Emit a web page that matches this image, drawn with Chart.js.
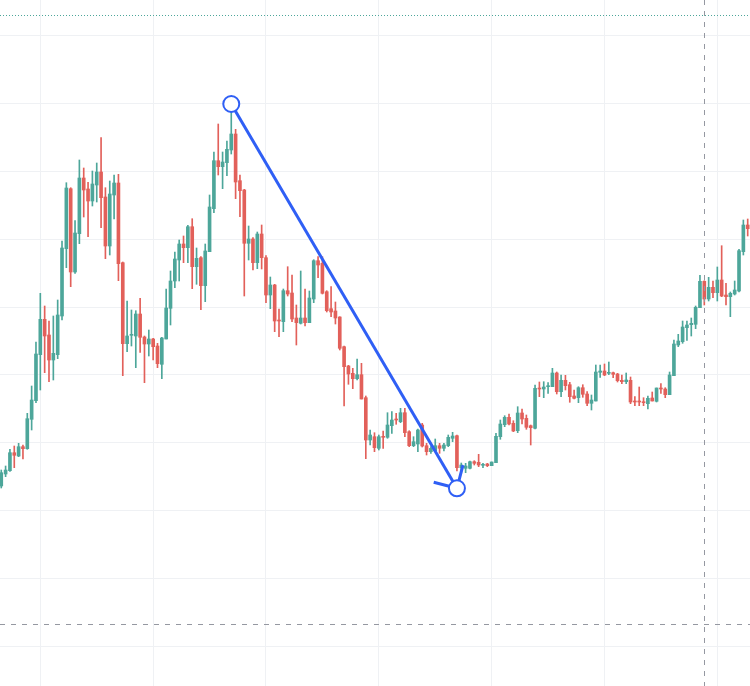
<!DOCTYPE html>
<html>
<head>
<meta charset="utf-8">
<script src="https://cdn.jsdelivr.net/npm/chart.js@4.4.1/dist/chart.umd.min.js"></script>
<style>
  html, body { margin: 0; padding: 0; background: #ffffff; }
  #wrap { width: 750px; height: 686px; position: relative; }
</style>
</head>
<body>
<div id="wrap"><canvas id="chart"></canvas></div>
<script>
// OHLC, one candle per bar index (0..172)
const opens = [
  20.0, 21.2, 21.53, 23.33, 23.0, 23.93, 23.73, 26.67, 28.53, 33.13,
  36.67, 35.1, 32.6, 33.13, 37.0, 43.73, 49.73, 41.4, 45.23, 50.8,
  49.7, 48.5, 50.1, 51.4, 48.9, 44.0, 49.1, 50.3, 42.33, 34.23,
  35.07, 35.0, 37.2, 34.9, 34.2, 34.7, 34.0, 32.17, 34.7, 37.77,
  40.5, 42.6, 44.2, 43.83, 45.93, 41.93, 42.83, 40.03, 43.43, 47.73,
  52.53, 51.93, 52.33, 53.6, 55.2, 50.53, 49.6, 44.27, 44.7, 42.33,
  45.2, 42.83, 39.1, 40.1, 36.6, 36.43, 39.53, 39.3, 36.8, 36.27,
  36.8, 36.33, 38.7, 42.53, 42.27, 39.43, 37.73, 37.5, 36.9, 33.93,
  32.0, 31.27, 30.73, 31.13, 28.83, 24.6, 24.93, 23.77, 24.93, 24.87,
  26.03, 26.7, 26.43, 27.33, 25.43, 24.03, 24.2, 26.1, 24.03, 23.43,
  23.53, 24.03, 23.77, 24.03, 24.77, 25.03, 21.83, 21.77, 21.77, 22.43,
  22.37, 22.07, 22.2, 22.03, 22.33, 24.93, 26.13, 26.87, 26.27, 25.53,
  27.3, 26.77, 26.03, 25.77, 29.77, 29.7, 29.93, 29.93, 31.3, 29.43,
  30.57, 30.13, 29.0, 28.83, 29.83, 29.2, 28.27, 28.5, 31.37, 31.5,
  31.27, 31.33, 31.2, 30.57, 30.43, 30.57, 28.5, 28.5, 28.43, 28.23,
  28.8, 28.47, 29.8, 29.7, 29.13, 31.03, 34.1, 34.43, 35.83, 36.13,
  36.17, 37.83, 40.47, 38.7, 39.87, 39.33, 40.6, 39.1, 38.93, 39.2,
  39.5, 43.43, 46.1
]
const highs = [
  21.6, 22.0, 23.67, 24.0, 24.27, 24.1, 27.27, 30.0, 34.4, 39.27,
  38.0, 36.5, 37.0, 38.6, 44.5, 50.33, 49.83, 46.53, 52.6, 51.8,
  50.37, 51.5, 52.3, 54.83, 49.83, 50.5, 51.1, 51.17, 42.4, 38.5,
  37.6, 37.53, 38.77, 35.0, 35.6, 34.77, 34.27, 34.87, 39.7, 41.5,
  43.4, 44.6, 45.0, 46.07, 46.73, 43.8, 42.93, 44.2, 49.1, 53.4,
  56.2, 53.4, 54.5, 58.2, 55.67, 51.1, 49.67, 46.0, 44.83, 45.4,
  46.1, 43.03, 40.9, 40.17, 37.7, 39.7, 41.93, 41.1, 38.1, 41.5,
  39.7, 39.5, 42.63, 42.93, 42.93, 39.53, 39.93, 38.4, 36.93, 34.0,
  32.07, 31.77, 32.7, 32.27, 29.0, 25.6, 25.33, 25.1, 25.5, 27.33,
  27.43, 27.27, 27.77, 27.77, 25.53, 24.93, 25.7, 26.27, 24.27, 23.93,
  24.7, 24.27, 24.27, 25.1, 25.37, 25.1, 22.3, 22.27, 22.5, 22.53,
  23.17, 22.27, 22.27, 22.4, 25.27, 26.6, 27.03, 27.2, 26.53, 27.93,
  27.7, 27.1, 26.1, 30.1, 30.4, 30.43, 30.33, 31.77, 31.4, 31.1,
  31.07, 30.37, 29.6, 29.93, 30.13, 29.43, 29.1, 32.1, 32.1, 32.2,
  32.4, 31.4, 31.27, 31.1, 31.3, 30.9, 28.93, 29.9, 28.83, 29.0,
  29.4, 29.8, 30.23, 29.83, 31.4, 34.6, 35.17, 36.5, 36.5, 36.8,
  38.0, 41.07, 40.53, 40.87, 40.5, 41.9, 44.03, 40.27, 39.4, 40.5,
  43.67, 46.6, 46.7
]
const lows = [
  19.8, 20.93, 21.47, 21.83, 22.93, 22.7, 23.67, 25.6, 28.33, 29.6,
  31.33, 30.43, 30.6, 32.73, 36.6, 41.83, 39.93, 41.27, 44.23, 46.9,
  44.93, 48.0, 48.4, 45.83, 42.73, 43.1, 46.7, 40.53, 31.03, 33.43,
  34.0, 31.83, 33.37, 30.33, 33.0, 32.6, 31.83, 30.73, 34.7, 36.1,
  39.83, 40.5, 42.33, 42.33, 39.73, 40.17, 37.63, 38.43, 43.43, 47.33,
  51.1, 49.73, 51.03, 53.2, 48.73, 46.93, 39.0, 42.6, 41.6, 41.73,
  41.7, 38.33, 37.73, 35.43, 34.93, 35.43, 39.0, 36.43, 34.1, 36.2,
  36.0, 36.33, 38.33, 40.83, 39.2, 37.4, 36.93, 36.2, 33.6, 28.0,
  30.17, 29.73, 30.6, 28.7, 22.73, 24.1, 23.43, 23.6, 23.77, 24.77,
  25.27, 26.17, 26.33, 24.93, 23.93, 23.93, 23.43, 23.9, 23.1, 23.27,
  23.43, 23.27, 23.5, 23.93, 24.43, 21.5, 21.3, 21.33, 21.7, 22.1,
  21.93, 21.83, 21.93, 22.03, 22.33, 24.67, 25.93, 26.1, 25.43, 25.33,
  26.2, 25.67, 24.1, 25.7, 28.93, 28.83, 29.27, 29.93, 29.2, 28.93,
  29.6, 28.37, 28.7, 28.33, 28.87, 28.03, 27.6, 28.5, 30.87, 31.03,
  31.13, 30.83, 30.4, 30.23, 30.23, 28.23, 28.03, 28.03, 28.03, 27.7,
  28.5, 28.4, 29.27, 28.83, 29.13, 31.03, 33.93, 34.27, 34.57, 35.0,
  35.73, 37.83, 38.1, 38.5, 38.83, 38.5, 38.93, 38.1, 36.93, 39.1,
  39.4, 43.1, 45.0
]
const closes = [
  21.33, 21.6, 23.33, 23.07, 23.93, 23.73, 26.73, 28.6, 33.2, 36.67,
  35.0, 32.6, 33.27, 37.1, 43.8, 49.8, 41.4, 45.3, 50.8, 49.6,
  48.5, 50.2, 51.4, 48.83, 44.0, 49.2, 50.3, 42.23, 34.23, 35.0,
  35.13, 37.2, 34.87, 34.2, 34.7, 33.93, 32.23, 34.8, 37.8, 40.5,
  42.7, 44.2, 43.83, 45.93, 41.93, 42.77, 40.03, 43.5, 47.9, 52.53,
  51.93, 52.4, 53.67, 55.2, 50.4, 49.53, 44.27, 44.7, 42.33, 45.2,
  42.83, 39.1, 40.1, 36.5, 36.5, 39.53, 39.2, 36.7, 36.33, 36.8,
  36.33, 38.8, 42.53, 42.1, 39.27, 37.53, 37.4, 36.8, 33.77, 31.93,
  31.2, 30.73, 31.13, 28.7, 24.6, 25.1, 23.83, 24.93, 24.87, 26.1,
  26.6, 26.6, 27.33, 25.33, 24.03, 24.43, 25.6, 24.0, 23.43, 23.77,
  24.03, 23.77, 24.1, 24.87, 25.0, 21.83, 22.1, 22.0, 22.43, 22.27,
  22.1, 22.13, 22.03, 22.4, 24.97, 26.2, 26.87, 26.2, 25.5, 27.3,
  26.7, 25.87, 25.83, 29.77, 29.7, 29.9, 29.97, 31.3, 29.43, 30.57,
  30.03, 28.93, 28.77, 29.83, 29.17, 28.27, 28.6, 31.4, 31.5, 31.1,
  31.33, 31.17, 30.53, 30.43, 30.6, 28.4, 28.4, 28.4, 28.33, 28.77,
  28.5, 29.8, 29.7, 29.13, 31.1, 34.2, 34.5, 35.9, 36.1, 36.27,
  37.87, 40.47, 38.7, 39.87, 39.33, 40.6, 39.0, 38.93, 39.27, 39.6,
  43.53, 46.1, 45.73
]

// grid levels (price) and grid columns (bar index)
const gridPrices = [4.0, 10.78, 17.56, 24.33, 31.11, 37.89, 44.67, 51.44, 58.22, 65.0]
const gridIndexes = [9, 35, 61, 87, 113, 139, 165]

// drawing / overlays
const trendStart = { x: 53, y: 58.2 }
const trendEnd = { x: 105, y: 19.77 }
const priceLine = 67.1
const crosshairIndex = 162
const crosshairPrice = 6.2

const upColor = '#4da69a'
const downColor = '#e2605a'
const lineBlue = '#2f5ff5'

const idx = opens.map((_, i) => i)
const candleColors = idx.map(i => closes[i] >= opens[i] ? upColor : downColor)

const overlays = {
  id: 'overlays',
  beforeDatasetsDraw(chart) {
    const { ctx, chartArea: a, scales: { y } } = chart
    const py = Math.round(y.getPixelForValue(priceLine)) + 0.5
    ctx.save()
    ctx.strokeStyle = upColor
    ctx.lineWidth = 1
    ctx.setLineDash([1, 2])
    ctx.beginPath()
    ctx.moveTo(a.left, py)
    ctx.lineTo(a.right, py)
    ctx.stroke()
    ctx.restore()
  },
  beforeDatasetDraw(chart, args) {
    if (args.index !== 0) return
    const { ctx, scales: { x, y } } = chart
    const x1 = x.getPixelForValue(trendStart.x), y1 = y.getPixelForValue(trendStart.y)
    const x2 = x.getPixelForValue(trendEnd.x), y2 = y.getPixelForValue(trendEnd.y)
    const ang = Math.atan2(y2 - y1, x2 - x1)
    const len = 24
    ctx.save()
    ctx.strokeStyle = lineBlue
    ctx.lineWidth = 3
    ctx.beginPath()
    for (const d of [Math.PI / 4, -Math.PI / 4]) {
      ctx.moveTo(x2, y2)
      ctx.lineTo(x2 - len * Math.cos(ang + d), y2 - len * Math.sin(ang + d))
    }
    ctx.stroke()
    ctx.restore()
  },
  afterDatasetsDraw(chart) {
    const { ctx, chartArea: a, scales: { x, y } } = chart
    const px = Math.round(x.getPixelForValue(crosshairIndex)) + 0.5
    const py = Math.round(y.getPixelForValue(crosshairPrice)) + 0.5
    ctx.save()
    ctx.strokeStyle = '#9598a1'
    ctx.lineWidth = 1
    ctx.setLineDash([5, 6])
    ctx.beginPath()
    ctx.moveTo(px, a.top)
    ctx.lineTo(px, a.bottom)
    ctx.moveTo(a.left, py)
    ctx.lineTo(a.right, py)
    ctx.stroke()
    ctx.restore()
  }
}

const gridColor = '#eff1f4'

new Chart(document.getElementById('chart'), {
  type: 'bar',
  data: {
    datasets: [
      {
        type: 'line',
        data: [trendStart, trendEnd],
        borderColor: lineBlue,
        borderWidth: 3,
        tension: 0,
        fill: false,
        pointRadius: 8,
        pointBorderWidth: 2,
        pointBackgroundColor: '#ffffff',
        pointBorderColor: lineBlue
      },
      {
        data: idx.map(i => ({ x: i, y: [opens[i], closes[i]] })),
        backgroundColor: candleColors,
        barThickness: 3,
        minBarLength: 1,
        grouped: false
      },
      {
        data: idx.map(i => ({ x: i, y: [lows[i], highs[i]] })),
        backgroundColor: candleColors,
        barThickness: 1,
        grouped: false
      }
    ]
  },
  options: {
    responsive: true,
    maintainAspectRatio: false,
    animation: false,
    layout: { padding: 0, autoPadding: false },
    plugins: {
      legend: { display: false },
      tooltip: { enabled: false }
    },
    scales: {
      x: {
        type: 'linear',
        min: -0.29,
        max: 172.53,
        offset: false,
        afterBuildTicks: scale => { scale.ticks = gridIndexes.map(v => ({ value: v })) },
        ticks: { display: false },
        border: { display: false },
        grid: { color: gridColor, drawTicks: false, offset: false }
      },
      y: {
        min: 0,
        max: 68.6,
        afterBuildTicks: scale => { scale.ticks = gridPrices.map(v => ({ value: v })) },
        ticks: { display: false },
        border: { display: false },
        grid: { color: gridColor, drawTicks: false }
      }
    }
  },
  plugins: [overlays]
})
</script>
</body>
</html>
